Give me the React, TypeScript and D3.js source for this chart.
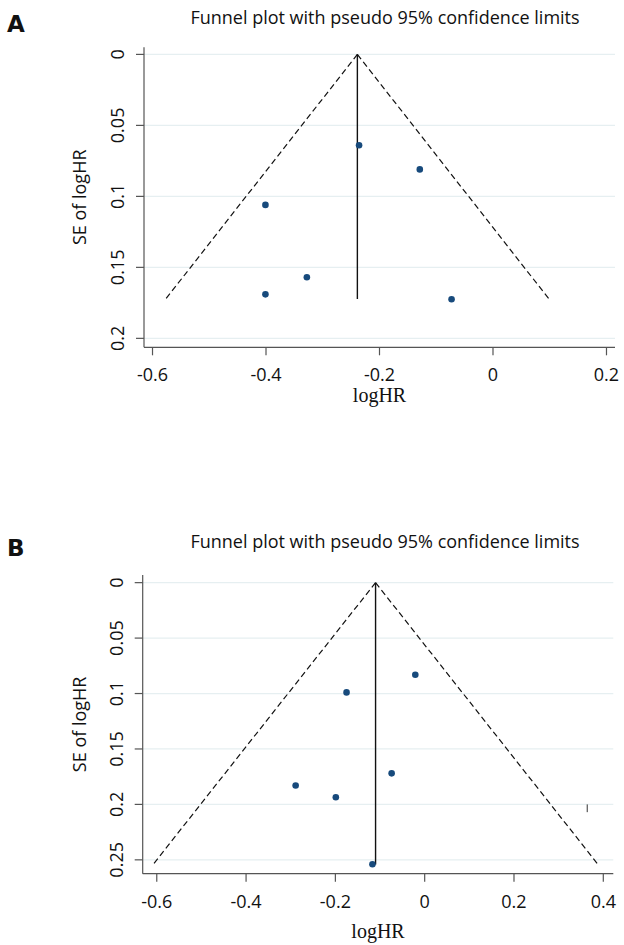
import { useEffect, useRef } from "react";
import * as d3 from "d3";

// panel A: studies
const logHrA = [-0.236, -0.129, -0.401, -0.328, -0.401, -0.073];
const seA = [0.064, 0.081, 0.106, 0.157, 0.169, 0.1725];
const pooledA = -0.239;
const maxSeA = 0.1723;
const xTicksA = [-0.6, -0.4, -0.2, 0, 0.2];
const xTickLabelsA = ["-0.6", "-0.4", "-0.2", "0", "0.2"];
const yTicksA = [0, 0.05, 0.1, 0.15, 0.2];
const yTickLabelsA = ["0", "0.05", "0.1", "0.15", "0.2"];

// panel B: studies
const logHrB = [-0.175, -0.021, -0.074, -0.289, -0.199, -0.117];
const seB = [0.099, 0.083, 0.172, 0.183, 0.1935, 0.254];
const pooledB = -0.11;
const maxSeB = 0.2542;
const xTicksB = [-0.6, -0.4, -0.2, 0, 0.2, 0.4];
const xTickLabelsB = ["-0.6", "-0.4", "-0.2", "0", "0.2", "0.4"];
const yTicksB = [0, 0.05, 0.1, 0.15, 0.2, 0.25];
const yTickLabelsB = ["0", "0.05", "0.1", "0.15", "0.2", "0.25"];
// small stray stroke seen in panel B
const strayB = { x: 0.364, se0: 0.2, se1: 0.207 };

const FONT = "'Open Sans', 'Noto Sans', sans-serif";

function drawPanel(g, p) {
  const x = d3.scaleLinear().domain(p.xDomain).range(p.xRange);
  const y = d3.scaleLinear().domain(p.yDomain).range(p.yRange);
  const [x0, x1] = p.xRange;
  const [y0, y1] = p.yRange;

  // grid
  g.selectAll(".grid")
    .data(p.yTicks)
    .join("line")
    .attr("x1", x0)
    .attr("x2", x1)
    .attr("y1", (d) => y(d))
    .attr("y2", (d) => y(d))
    .attr("stroke", "#e6eff1")
    .attr("stroke-width", 1.2);

  // axes
  g.append("line")
    .attr("x1", x0).attr("x2", x0).attr("y1", y0).attr("y2", y1)
    .attr("stroke", "#555").attr("stroke-width", 1.2);
  g.append("line")
    .attr("x1", x0).attr("x2", x1).attr("y1", y1).attr("y2", y1)
    .attr("stroke", "#555").attr("stroke-width", 1.2);

  g.selectAll(".ytick")
    .data(p.yTicks)
    .join("line")
    .attr("x1", x0 - 8).attr("x2", x0)
    .attr("y1", (d) => y(d)).attr("y2", (d) => y(d))
    .attr("stroke", "#555").attr("stroke-width", 1.2);

  g.selectAll(".ylab")
    .data(p.yTicks)
    .join("text")
    .attr("transform", (d) => `translate(${x0 - 20},${y(d)}) rotate(-90)`)
    .attr("text-anchor", "middle")
    .attr("fill", "#111")
    .style("font-family", FONT)
    .style("font-size", "18px")
    .text((d, i) => p.yTickLabels[i]);

  g.selectAll(".xtick")
    .data(p.xTicks.filter((d) => x(d) <= x1))
    .join("line")
    .attr("x1", (d) => x(d)).attr("x2", (d) => x(d))
    .attr("y1", y1).attr("y2", y1 + 8)
    .attr("stroke", "#555").attr("stroke-width", 1.2);

  g.selectAll(".xlab")
    .data(p.xTicks)
    .join("text")
    .attr("x", (d) => x(d))
    .attr("y", y1 + 34)
    .attr("text-anchor", "middle")
    .attr("fill", "#111")
    .style("font-family", FONT)
    .style("font-size", "18px")
    .text((d, i) => p.xTickLabels[i]);

  // funnel
  const line = d3.line().x((d) => x(d[0])).y((d) => y(d[1]));
  const lo = [[p.pooled, 0], [p.pooled - 1.96 * p.maxSe, p.maxSe]];
  const hi = [[p.pooled, 0], [p.pooled + 1.96 * p.maxSe, p.maxSe]];
  [lo, hi].forEach((seg) => {
    g.append("path")
      .attr("d", line(seg))
      .attr("fill", "none")
      .attr("stroke", "#111")
      .attr("stroke-width", 1.2)
      .attr("stroke-dasharray", "6,3.5");
  });
  g.append("path")
    .attr("d", line([[p.pooled, 0], [p.pooled, p.maxSe]]))
    .attr("stroke", "#111")
    .attr("stroke-width", 1.4);

  // studies
  g.selectAll(".pt")
    .data(p.logHr.map((v, i) => [v, p.se[i]]))
    .join("circle")
    .attr("cx", (d) => x(d[0]))
    .attr("cy", (d) => y(d[1]))
    .attr("r", 3.3)
    .attr("fill", "#174a7c");

  if (p.stray) {
    g.append("line")
      .attr("x1", x(p.stray.x)).attr("x2", x(p.stray.x))
      .attr("y1", y(p.stray.se0)).attr("y2", y(p.stray.se1))
      .attr("stroke", "#333").attr("stroke-width", 1);
  }

  // titles
  g.append("text")
    .attr("x", 385)
    .attr("y", p.titleY)
    .attr("text-anchor", "middle")
    .attr("fill", "#111")
    .style("font-family", FONT)
    .style("font-size", "18px")
    .text("Funnel plot with pseudo 95% confidence limits");

  g.append("text")
    .attr("x", 7)
    .attr("y", p.titleY + 7.5)
    .attr("fill", "#111")
    .style("font-family", "'DejaVu Sans', sans-serif")
    .style("font-weight", "bold")
    .style("font-size", "23px")
    .text(p.letter);

  g.append("text")
    .attr("transform", `translate(85.5,${(y0 + y1) / 2}) rotate(-90)`)
    .attr("text-anchor", "middle")
    .attr("fill", "#111")
    .style("font-family", FONT)
    .style("font-size", "18px")
    .text("SE of logHR");

  g.append("text")
    .attr("x", (x0 + x1) / 2)
    .attr("y", p.xTitleY)
    .attr("text-anchor", "middle")
    .attr("fill", "#111")
    .style("font-family", "'Liberation Serif', serif")
    .style("font-size", "20px")
    .text("logHR");
}

export default function App() {
  const ref = useRef(null);

  useEffect(() => {
    const svg = d3.select(ref.current);
    svg.selectAll("*").remove();

    drawPanel(svg.append("g"), {
      letter: "A",
      titleY: 24,
      xTitleY: 402,
      xDomain: [-0.615, 0.215],
      xRange: [144, 615],
      yDomain: [-0.005, 0.2063],
      yRange: [47.3, 347.3],
      logHr: logHrA,
      se: seA,
      pooled: pooledA,
      maxSe: maxSeA,
      xTicks: xTicksA,
      xTickLabels: xTickLabelsA,
      yTicks: yTicksA,
      yTickLabels: yTickLabelsA,
    });

    drawPanel(svg.append("g"), {
      letter: "B",
      titleY: 548,
      xTitleY: 938,
      xDomain: [-0.6315, 0.4224],
      xRange: [142.7, 613.3],
      yDomain: [-0.0069, 0.2625],
      yRange: [575, 873.7],
      logHr: logHrB,
      se: seB,
      pooled: pooledB,
      maxSe: maxSeB,
      xTicks: xTicksB,
      xTickLabels: xTickLabelsB,
      yTicks: yTicksB,
      yTickLabels: yTickLabelsB,
      stray: strayB,
    });
  }, []);

  return (
    <div style={{ position: "absolute", left: 0, top: 0 }}>
      <svg ref={ref} width={624} height={945} style={{ display: "block", background: "#fff" }} />
    </div>
  );
}
